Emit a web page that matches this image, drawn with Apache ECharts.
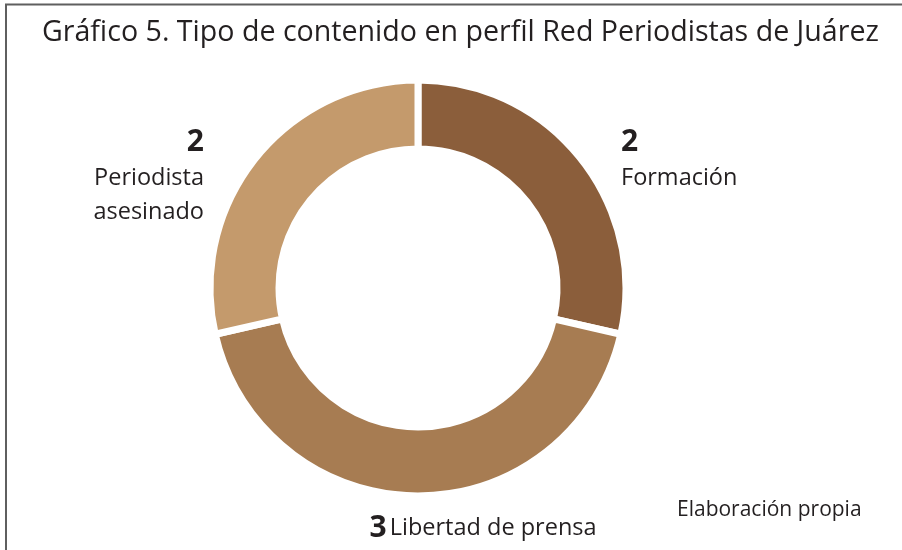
<!DOCTYPE html>
<html>
<head>
<meta charset="utf-8">
<script src="https://cdn.jsdelivr.net/npm/echarts@6/dist/echarts.min.js"></script>
<style>
  html, body { margin: 0; padding: 0; background: #fff; }
  #chart { width: 902px; height: 550px; }
</style>
</head>
<body>
<div id="chart"></div>
<script>
// datos del gráfico
const categorias = ['Formación', 'Libertad de prensa', 'Periodista asesinado']
const valores = [2, 3, 2]
const colores = ['#8b5e3b', '#a77c52', '#c49a6c']

// posiciones de etiquetas (texto)
const etiquetas = [
    { x: 621, y: 123, align: 'left' },
    { x: 483, y: 509, align: 'center' },
    { x: 204, y: 123, align: 'right' }
]

const fuente = '"Open Sans", "Noto Sans", sans-serif'

let myChart = echarts.init(document.getElementById('chart'))
let option = {
    backgroundColor: '#fff',
    animation: false,
    title: [{
        text: 'Gráfico 5. Tipo de contenido en perfil Red Periodistas de Juárez',
        left: 37,
        top: 13,
        textStyle: {
            fontFamily: fuente,
            fontSize: 28.6,
            fontWeight: 'normal',
            color: '#231f20'
        }
    }, {
        text: 'Elaboración propia',
        left: 672,
        top: 495,
        textStyle: {
            fontFamily: fuente,
            fontSize: 21,
            fontWeight: 'normal',
            color: '#231f20'
        }
    }],
    // marco
    graphic: [{
        type: 'polyline',
        shape: { points: [[6, 550], [6, 4.5], [902, 4.5]] },
        style: { stroke: '#5f5f5f', lineWidth: 2, fill: null }
    }],
    series: [{
        type: 'pie',
        center: [418, 288],
        radius: [139, 208],
        startAngle: 90,
        clockwise: true,
        avoidLabelOverlap: false,
        itemStyle: {
            borderColor: '#fff',
            borderWidth: 7
        },
        label: {
            show: true,
            position: 'outside',
            fontFamily: fuente,
            color: '#231f20',
            formatter: function (p) {
                if (p.dataIndex === 1) return '{n|' + p.value + '} {t|' + p.name + '}'
                if (p.dataIndex === 2) return '{n|' + p.value + '}\n{t|Periodista}\n{t|asesinado}'
                return '{n|' + p.value + '}\n{t|' + p.name + '}'
            },
            rich: {
                n: { fontFamily: fuente, fontSize: 30, fontWeight: 'bold', color: '#231f20', lineHeight: 38 },
                t: { fontFamily: fuente, fontSize: 23.5, color: '#231f20', lineHeight: 34 }
            }
        },
        labelLine: { show: false },
        labelLayout: function (params) {
            let e = etiquetas[params.dataIndex]
            return { x: e.x, y: e.y, align: e.align, verticalAlign: 'top' }
        },
        data: categorias.map(function (c, i) {
            return { name: c, value: valores[i], itemStyle: { color: colores[i] } }
        })
    }]
}
myChart.setOption(option)
</script>
</body>
</html>
